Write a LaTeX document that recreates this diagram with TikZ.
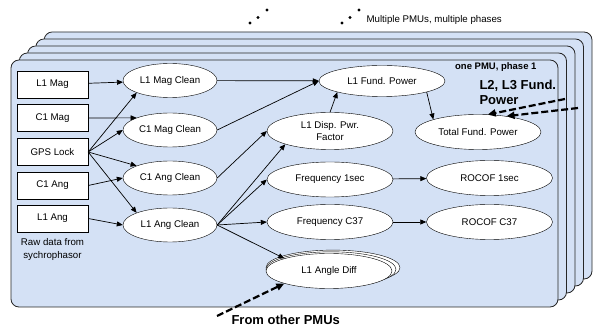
\documentclass[tikz,border=0pt]{standalone}
\usepackage{fontspec}
\setmainfont{Liberation Sans}
\usepackage{tikz}
\usetikzlibrary{shapes.geometric, arrows.meta, positioning}

\definecolor{panelblue}{RGB}{212,225,245}

\begin{document}
\begin{tikzpicture}[
  x=1pt, y=-1pt,
  panel/.style={draw=black!85, line width=0.8pt, fill=panelblue, rounded corners=8pt},
  raw/.style={draw, rectangle, fill=white, minimum width=71pt, minimum height=27pt, font=\fontsize{9.7}{11}\selectfont},
  proc/.style={draw, ellipse, fill=white, inner sep=0pt, minimum width=94pt, minimum height=34pt, font=\fontsize{9.7}{11}\selectfont},
  wideproc/.style={proc, minimum width=126pt, minimum height=35pt, align=center},
  note/.style={font=\fontsize{9.7}{13}\selectfont, align=center},
  bignote/.style={font=\fontsize{13}{14.5}\selectfont\bfseries, align=left},
  arr/.style={-{Triangle[length=6pt,width=5pt]}, line width=0.7pt},
  dasharr/.style={-{Triangle[length=8pt,width=7pt]}, line width=2.2pt, dash pattern=on 7pt off 3pt}
]
\useasboundingbox (0,0) rectangle (594,328);

% Stacked panels (one per PMU / phase)
\foreach \i in {4,3,2,1,0}
  \draw[panel] ({11+8.3*\i},{60-7*\i}) rectangle ({558+8.5*\i},{307-7*\i});

% Dots
\foreach \p in {(250,23),(258,17.5),(267,10),(342,23),(350,17.5),(359,10)}
  \fill \p circle (1.7);
\node[anchor=west, font=\fontsize{9.7}{11}\selectfont] (multi) at (363,20) {Multiple PMUs, multiple phases};
\node[anchor=east, font=\fontsize{9.5}{11}\selectfont\bfseries] (onepmu) at (540,67) {one PMU, phase 1};

% Raw data
\node[raw] (l1mag) at (52.5,84.5) {L1 Mag};
\node[raw] (c1mag) at (52.5,118) {C1 Mag};
\node[raw] (gps) at (52.5,152) {GPS Lock};
\node[raw] (c1ang) at (52.5,185.5) {C1 Ang};
\node[raw] (l1ang) at (52.5,218.5) {L1 Ang};
\node[note] (rawnote) at (52.5,249.5) {Raw data from\\sychrophasor};

% Cleaning
\node[proc] (l1magc) at (170,80.5) {L1 Mag Clean};
\node[proc] (c1magc) at (170,130) {C1 Mag Clean};
\node[proc] (c1angc) at (170,178) {C1 Ang Clean};
\node[proc] (l1angc) at (170,225) {L1 Ang Clean};

% Derived quantities
\node[wideproc, minimum height=31pt] (l1fp) at (382,81) {L1 Fund. Power};
\node[wideproc, minimum height=37pt, font=\fontsize{9.7}{11.5}\selectfont] (disp) at (330,131) {L1 Disp. Pwr.\\Factor};
\node[wideproc] (total) at (478,132) {Total Fund. Power};
\node[wideproc] (f1s) at (330,179.5) {Frequency 1sec};
\node[wideproc] (fc37) at (330,222) {Frequency C37};
\node[wideproc] (r1s) at (489.5,178) {ROCOF 1sec};
\node[wideproc] (rc37) at (489.5,222) {ROCOF C37};
\node[wideproc, minimum width=134pt] (adiffb) at (333,267.6) {};
\node[wideproc, minimum width=130pt] (adiffm) at (331,269.3) {};
\node[wideproc] (adiff) at (329,271) {L1 Angle Diff};

% Outside inputs
\node[bignote, anchor=north west] (l23) at (476,77) {L2, L3 Fund.\\Power};
\node[bignote, anchor=west] (other) at (228,320) {From other PMUs};
\coordinate (inA) at (565,99);
\coordinate (inB) at (578,108);
\coordinate (inC) at (217,316);

% Arrows
\draw[arr] (l1mag) -- (l1magc);
\draw[arr] (c1mag.east) -- (c1magc.north west);
\draw[arr] (gps.east) -- (l1magc.south west);
\draw[arr] (gps.east) -- (c1magc.west);
\draw[arr] (gps.east) -- (c1angc.north west);
\draw[arr] (gps.east) -- (l1angc.north west);
\draw[arr] (c1ang.east) -- (c1angc.west);
\draw[arr] (l1ang.east) -- (l1angc.west);
\draw[arr] (l1magc) -- (l1fp);
\draw[arr] (c1magc.east) -- (l1fp.west);
\draw[arr] (disp.north) -- (l1fp.south west);
\draw[arr] (l1fp.south east) -- (total.north west);
\draw[arr] (c1angc.east) -- (disp.west);
\draw[arr] (l1angc.east) -- (disp.south west);
\draw[arr] (l1angc.east) -- (f1s.west);
\draw[arr] (l1angc.east) -- (fc37.west);
\draw[arr] (l1angc.east) -- (adiff.north west);
\draw[arr] (f1s) -- (r1s);
\draw[arr] (fc37) -- (rc37);
\draw[dasharr] (inA) -- (total.61);
\draw[dasharr] (inB) -- (total.29);
\draw[dasharr] (inC) -- (adiff.south west);

\end{tikzpicture}
\end{document}
